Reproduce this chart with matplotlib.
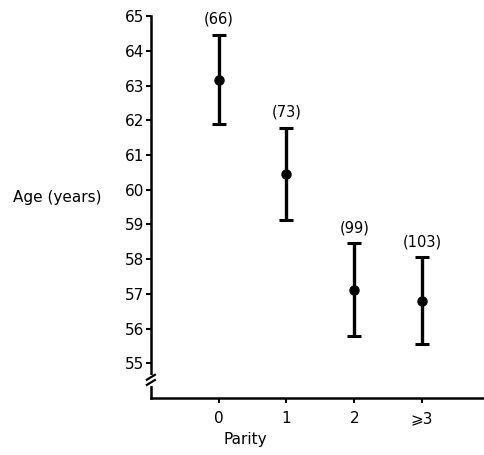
import matplotlib
matplotlib.use("Agg")
import matplotlib.pyplot as plt

categories = ["0", "1", "2", "\u2a7e3"]
means = [63.15, 60.45, 57.1, 56.8]
lower = [61.88, 59.14, 55.78, 55.55]
upper = [64.47, 61.79, 58.47, 58.07]
counts = ["(66)", "(73)", "(99)", "(103)"]
yticks = [55, 56, 57, 58, 59, 60, 61, 62, 63, 64, 65]

plt.rcParams['font.family'] = ['DejaVu Sans']
fig = plt.figure(figsize=(4.85, 4.55), dpi=100)
ax = fig.add_axes([0.311, 0.125, 0.685, 0.8396])

x = list(range(len(categories)))
yerr = [[m - l for m, l in zip(means, lower)], [u - m for m, u in zip(means, upper)]]
ax.errorbar(x, means, yerr=yerr, fmt='o', color='black', ms=6.5,
            elinewidth=2.4, capsize=5, capthick=2.2)
for xi, u, c in zip(x, upper, counts):
    ax.text(xi, u + 0.22, c, ha='center', va='bottom', fontsize=10.5)

ax.set_xlim(-1, 3.9)
ax.set_ylim(54, 65)
ax.set_yticks(yticks)
ax.set_xticks(x)
ax.set_xticklabels(categories)
ax.tick_params(axis='both', labelsize=11, width=1.5, length=3.5, direction='out')
ax.tick_params(axis='y', pad=1)
ax.tick_params(axis='x', pad=6)
for s in ['top', 'right']:
    ax.spines[s].set_visible(False)
for s in ['left', 'bottom']:
    ax.spines[s].set_linewidth(1.8)

# axis break marks
trans = ax.get_yaxis_transform()
ax.plot([0, 0], [54.42, 54.6], transform=trans, color='white', lw=3, clip_on=False, zorder=5)
for yb in [54.45, 54.6]:
    ax.plot([-0.012, 0.012], [yb - 0.07, yb + 0.07], transform=trans, color='black',
            lw=1.6, clip_on=False, zorder=6)

ax.set_ylabel("Age (years)", rotation=0, fontsize=11, va='center', ha='center')
ax.yaxis.set_label_coords(-0.283, 0.526)
ax.set_xlabel("Parity", fontsize=11, va='top', ha='center')
ax.xaxis.set_label_coords(0.283, -0.089)

fig.savefig("out.png", dpi=100)
